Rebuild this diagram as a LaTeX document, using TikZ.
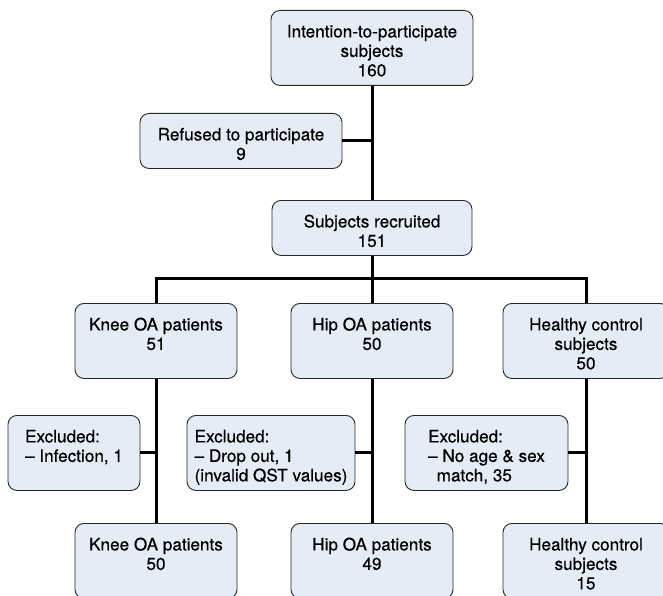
\documentclass[tikz,border=0pt]{standalone}
\usepackage{fontspec}
\setmainfont{TeX Gyre Heros}
\newfontfamily\boxfont{TeX Gyre Heros}[FakeBold=0.5, Ligatures=TeX]
\usepackage{tikz}
\usetikzlibrary{calc}
\definecolor{boxfill}{RGB}{230,236,246}
\definecolor{boxline}{RGB}{40,40,40}
% lines of a box, the first line sitting on the baseline of the node
\newcommand{\stackc}[1]{\begin{tabular}[t]{@{}c@{}}#1\end{tabular}}
\newcommand{\stackl}[1]{\begin{tabular}[t]{@{}l@{}}#1\end{tabular}}

\begin{document}
\begin{tikzpicture}[x=1bp, y=-1bp,
	flowbox/.style={draw=boxline, fill=boxfill, line width=0.9bp, rounded corners=9bp, inner sep=0pt,
		font=\boxfont\fontsize{17.2}{19.5}\selectfont, text height=27bp, anchor=north},
	tall/.style={text depth=48bp},
	short/.style={text depth=28bp},
	link/.style={line width=3bp, black}]
			% The page is fixed to the size of the figure, measured from the top left corner downwards
			\useasboundingbox (0,0) rectangle (663,596);

			% The first three boxes: everybody asked, the ones who said no, and the ones who were recruited
			\node[flowbox, tall, minimum width=202bp] (intent) at (372,10) {\stackc{Intention-to-participate\\subjects\\160}};
			\node[flowbox, short, minimum width=202bp] (refused) at (241,113) {\stackc{Refused to participate\\9}};
			\node[flowbox, short, minimum width=200bp] (recruit) at (372,200) {\stackc{Subjects recruited\\151}};

			% The three groups the recruited subjects are split into
			\node[flowbox, tall, minimum width=162bp] (knee) at (156,303) {\stackc{Knee OA patients\\51}};
			\node[flowbox, tall, minimum width=162bp] (hip) at (372,303) {\stackc{Hip OA patients\\50}};
			\node[flowbox, tall, minimum width=166bp] (healthy) at (586,303) {\stackc{Healthy control\\subjects\\50}};

			% The exclusions of each group. The text in these boxes is left aligned
			\node[flowbox, tall, minimum width=132bp] (kneeout) at (74,415) {\stackl{Excluded:\\-- Infection, 1}};
			\node[flowbox, tall, minimum width=168bp] (hipout) at (271,415) {\stackl{Excluded:\\-- Drop out, 1\\(invalid QST values)}};
			\node[flowbox, tall, minimum width=163bp] (healthyout) at (486.5,415) {\stackl{Excluded:\\-- No age \& sex\\\hspace*{0.5em}match, 35}};

			% What is left of each group at the end
			\node[flowbox, tall, minimum width=162bp] (kneefinal) at (156,523) {\stackc{Knee OA patients\\50}};
			\node[flowbox, tall, minimum width=162bp] (hipfinal) at (372,523) {\stackc{Hip OA patients\\49}};
			\node[flowbox, tall, minimum width=166bp] (healthyfinal) at (586,523) {\stackc{Healthy control\\subjects\\15}};

			% The thick lines. The fork is the point where the recruited subjects split into the three groups
			\coordinate (fork) at (372,278);
			\draw[link] (intent.south) -- (recruit.north);
			\draw[link] (refused.east) -- (refused.east -| intent.south);
			\draw[link] (recruit.south) -- (fork);
			\draw[link] (knee.north) |- (fork) -| (healthy.north);
			\draw[link] (fork) -- (hip.north);
			% Each group runs down to its final box, with the exclusions joining from the left
			\draw[link] (knee.south) -- (kneefinal.north);
			\draw[link] (hip.south) -- (hipfinal.north);
			\draw[link] (healthy.south) -- (healthyfinal.north);
			\draw[link] (kneeout.east) -- (kneeout.east -| knee.south);
			\draw[link] (hipout.east) -- (hipout.east -| hip.south);
			\draw[link] (healthyout.east) -- (healthyout.east -| healthy.south);
\end{tikzpicture}
\end{document}
